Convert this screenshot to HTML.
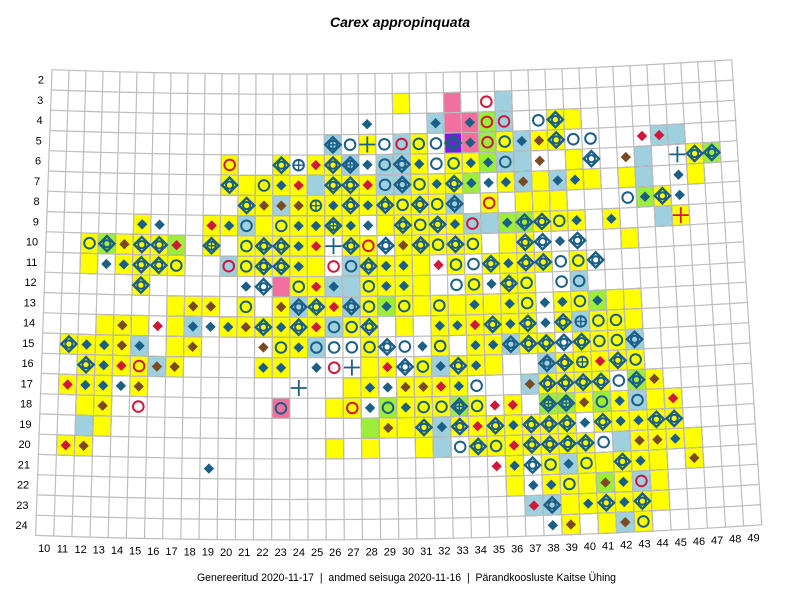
<!DOCTYPE html>
<html><head><meta charset="utf-8"><title>Carex appropinquata</title>
<style>
html,body{margin:0;padding:0;background:#fff;}
svg{display:block;font-family:"Liberation Sans",Arial,sans-serif;}
</style></head>
<body>
<svg id="map" width="800" height="600" viewBox="0 0 800 600" xmlns="http://www.w3.org/2000/svg">
<rect width="800" height="600" fill="#fff"/>
<text x="400" y="27" text-anchor="middle" font-size="14" font-weight="bold" font-style="italic" fill="#000">Carex appropinquata</text>
<text x="406.5" y="581" text-anchor="middle" font-size="11" textLength="419" lengthAdjust="spacingAndGlyphs" fill="#000" xml:space="preserve" style="white-space:pre">Genereeritud 2020-11-17  |  andmed seisuga 2020-11-16  |  Pärandkoosluste Kaitse Ühing</text>
<g id="grid"></g>
<g id="cells"></g>
<g id="gridlines"></g>
<g id="symbols"></g>
<g id="labels"></g>
</svg>
<script>
// column labels (x axis) and row labels (y axis)
const colLabels = [10,11,12,13,14,15,16,17,18,19,20,21,22,23,24,25,26,27,28,29,30,31,32,33,34,35,36,37,38,39,40,41,42,43,44,45,46,47,48,49];
const rowLabels = [2,3,4,5,6,7,8,9,10,11,12,13,14,15,16,17,18,19,20,21,22,23,24];
// occurrence data: each token = column number + fill code + symbol code
const row3  = "30y_ 33p_ 35wc 36b_";
const row4  = "28wd 32bd 33p_ 34pd 35gc 36bc 38wo 39yD 40y_";
const row5  = "26bQ 27wo 28y+ 29wo 30bc 31yo 32wo 33vD 34pd 35gc 36yo 37bd 38yn 39yD 40wo 41wo 44wr 45br 46b_";
const row6  = "20yc 23yD 24wq 25yr 26yD 27bQ 28wd 29bo 30bD 31yd 32wo 33yo 34yd 35gd 36bo 37b_ 38wn 40y_ 41wD 43wn 44b_ 46w+ 47yD 48gD";
const row7  = "20yD 21y_ 22yo 23yd 24yr 25b_ 26yD 27yD 28yr 29bo 30bD 31yo 32yd 33yD 34gd 35wd 36yd 37bn 38y_ 39bd 40yd 41y_ 43y_ 44b_ 46wd 47y_";
const row8  = "21yD 22yn 23bn 24yn 25yq 26yd 27yD 28yd 29yD 30yo 31yD 32yo 33bD 35yc 37y_ 38y_ 39y_ 43wo 44gd 45yD 46wd";
const row9  = "15yd 16wd 19yr 20yd 21bo 22y_ 23yo 24yd 25yd 26yQ 27yd 28wd 29y_ 30yD 31yo 32yD 33yd 34bc 35b_ 36gd 37gD 38yD 39yo 40yd 42yd 45b_ 46yx";
const row10 = "12yo 13gD 14yn 15yD 16yD 17gr 19yQ 21yo 22yD 23yD 24yd 25yr 26w+ 27yD 28yc 29wD 30yn 31yD 32yo 33yD 34yo 36y_ 37yD 38wD 39wd 40wD 43y_";
const row11 = "12y_ 13wd 14yd 15yD 16yD 17yo 20bc 21yo 22yD 23yD 24yd 25y_ 26wc 27bo 28yD 29yd 30yd 31y_ 32wr 33yo 34wo 35yD 36yd 37yD 38yD 39wo 40yo 41wD";
const row12 = "15yD 21wd 22wD 23p_ 24yo 25yr 26bd 27b_ 28yo 29yd 30yd 31y_ 33wo 34yo 35wd 36yD 37yo 39wo 40bo";
const row13 = "17y_ 18yn 19yn 21yo 23yn 24bD 25yD 26yr 27bD 28yo 29gd 30yo 31y_ 32yo 33y_ 34yd 35y_ 36yd 37yo 38wd 39yd 40yo 41gd 42y_ 43y_";
const row14 = "13y_ 14yn 15y_ 16wr 17y_ 18bd 19wd 20yd 21yn 22yD 23yd 24yD 25yr 26bo 27yo 28yD 30y_ 32yd 33yd 34yr 35yD 36yd 37yD 38wd 39yD 40bq 41yo 42yo 43y_";
const row15 = "11yD 12yd 13yd 14yn 15bd 17y_ 18yn 22wn 23yo 24yd 25bo 26wo 27wo 28yo 29wD 30wo 31wd 32yo 34yd 35yd 36bD 37yD 38yD 39wD 40yD 41yo 42yo 43bD";
const row16 = "12yD 13yd 14yr 15yc 16bn 17yn 22yd 23yd 25wd 26wc 27w+ 28y_ 29yr 30wD 31yo 32bd 33yD 34yd 35y_ 38bD 39yD 40yq 41yr 42yD 43yo";
const row17 = "11yr 12yd 13yd 14wd 15yn 24w+ 27y_ 28yd 29wd 30yn 31yn 32yr 33yd 34wo 37bn 38yD 39yD 40yD 41yD 42wo 43gD 44yn";
const row18 = "12y_ 13yn 15wc 23po 26y_ 27yc 28wd 29go 30yd 31yo 32yo 33gQ 34yo 35wr 36yr 38gQ 39gQ 40yn 41go 42yd 43bo 44y_ 45yr";
const row19 = "12b_ 13y_ 28g_ 29yn 30y_ 31yD 32bd 33yD 34yr 35yD 36yd 37yD 38yD 39yD 40wd 41yD 42yd 43yd 44yD 45yD";
const row20 = "11yr 12yn 26y_ 28y_ 31y_ 32b_ 33wo 34yD 35yo 36yr 37yD 38yD 39yD 40yD 41wo 42b_ 43yn 44yn 45yd 46y_";
const row21 = "19wd 35wr 36yd 37wD 38yo 39bd 40yo 41y_ 42yD 43yd 44y_ 46yn";
const row22 = "36y_ 37wd 38yd 39yo 40y_ 41gn 42yd 43bc 44y_";
const row23 = "37br 38bD 39y_ 40yd 41yD 42yd 43yD 44y_";
const row24 = "38wd 39yn 41y_ 42bn 43yo";
const rowData = [["", 2],[row3,3],[row4,4],[row5,5],[row6,6],[row7,7],[row8,8],[row9,9],[row10,10],[row11,11],[row12,12],[row13,13],[row14,14],[row15,15],[row16,16],[row17,17],[row18,18],[row19,19],[row20,20],[row21,21],[row22,22],[row23,23],[row24,24]];

const NS = "http://www.w3.org/2000/svg";
const CX = 293, CY = -6726, R0 = 6800, DR = 20.26, T0 = -0.03544, DT = 0.0025;
const NCOL = colLabels.length, NROW = rowLabels.length;
function pt(i, j){ const t = T0 + i*DT, R = R0 + j*DR; return [CX + R*Math.sin(t), CY + R*Math.cos(t)]; }
function xCol(c){ return c - colLabels[0]; }
function yRow(r){ return r - rowLabels[0]; }
function mk(tag, attrs, parent){ const e = document.createElementNS(NS, tag); for (const k in attrs) e.setAttribute(k, attrs[k]); parent.appendChild(e); return e; }
const fills = {y:"#ffff00", b:"#9fd0e0", g:"#9cee3a", p:"#f2709e", v:"#8a10f0"};
const BLUE = "#1b5f86", RED = "#d0183a", BROWN = "#7b4a22";

const gridG = document.getElementById("grid"), cellsG = document.getElementById("cells"),
      linesG = document.getElementById("gridlines"), symG = document.getElementById("symbols"), labG = document.getElementById("labels");

for (let j = 0; j <= NROW; j++){
  let d = "";
  for (let s = 0; s <= 40; s++){ const p = pt(s*NCOL/40, j); d += (s ? "L" : "M") + p[0].toFixed(1) + "," + p[1].toFixed(1); }
  const l = mk("path", {d:d, fill:"none", stroke:"#bdbdbd", "stroke-width":1.2}, linesG);
  
  
}
for (let i = 0; i <= NCOL; i++){
  const a = pt(i, 0), b = pt(i, NROW);
  const l = mk("line", {x1:a[0], y1:a[1], x2:b[0], y2:b[1], stroke:"#bdbdbd", "stroke-width":1.2}, linesG);
  
  
}

function drawSymbol(s, cx, cy){
  const g = mk("g", {transform:"translate(" + cx.toFixed(1) + "," + cy.toFixed(1) + ")"}, symG);
  
  
  const dia = (h, f, st, sw) => mk("path", {d:`M0,${-h}L${h},0L0,${h}L${-h},0Z`, fill:f, stroke:st, "stroke-width":sw}, g);
  const cir = (r, col) => mk("circle", {cx:0, cy:0, r:r, fill:"none", stroke:col, "stroke-width":2}, g);
  const plus = (a, col, sw) => mk("path", {d:`M${-a},0H${a}M0,${-a}V${a}`, stroke:col, "stroke-width":sw, fill:"none"}, g);
  if (s === "D"){ dia(7.6, "none", BLUE, 2.4); cir(3.6, BLUE); }
  else if (s === "Q"){ dia(7.6, "none", BLUE, 2.4); cir(4.2, BLUE); plus(4.2, BLUE, 1.4); }
  else if (s === "d"){ dia(5.2, BLUE, "none", 0); }
  else if (s === "r"){ dia(5.2, RED, "none", 0); }
  else if (s === "n"){ dia(5.2, BROWN, "none", 0); }
  else if (s === "o"){ cir(5.3, BLUE); }
  else if (s === "c"){ cir(5.3, RED); }
  else if (s === "q"){ cir(5.3, BLUE); plus(5.3, BLUE, 1.4); }
  else if (s === "+"){ plus(8, BLUE, 1.8); }
  else if (s === "x"){ plus(8, RED, 1.8); }
}
rowData.forEach(([str, r]) => {
  if (!str) return;
  str.trim().split(/\s+/).forEach(tok => {
    const m = tok.match(/^(\d+)([a-z])(.)$/); if (!m) return;
    const c = +m[1], f = m[2], s = m[3];
    const i = xCol(c), j = yRow(r);
    if (fills[f]){
      const p = [pt(i,j), pt(i+1,j), pt(i+1,j+1), pt(i,j+1)];
      const poly = mk("polygon", {points:p.map(q => q[0].toFixed(1)+","+q[1].toFixed(1)).join(" "), fill:fills[f], stroke:"#6e6e6e", "stroke-width":1}, cellsG);
      
      
    }
    if (s !== "_"){ const cc = pt(i+0.5, j+0.5); drawSymbol(s, cc[0], cc[1]); }
  });
});

rowLabels.forEach((r, j) => {
  const p = pt(-0.45, j+0.5);
  const t = mk("text", {x:p[0].toFixed(1), y:(p[1]+4).toFixed(1), "text-anchor":"end", "font-size":11, fill:"#000"}, labG);
  
  
  t.textContent = r;
});
colLabels.forEach((c, i) => {
  const p = pt(i+0.5, NROW + 0.6);
  const t = mk("text", {x:p[0].toFixed(1), y:(p[1]+4).toFixed(1), "text-anchor":"middle", "font-size":11, fill:"#000"}, labG);
  
  
  t.textContent = c;
});
</script>
</body></html>
